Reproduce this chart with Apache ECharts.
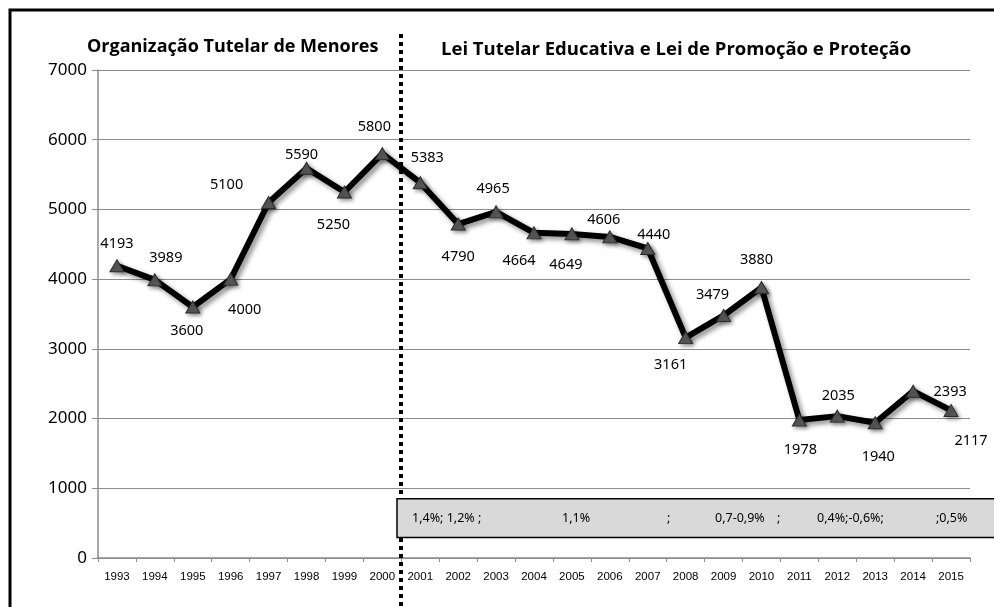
<!DOCTYPE html>
<html>
<head>
<meta charset="utf-8">
<script src="https://cdn.jsdelivr.net/npm/echarts@6/dist/echarts.min.js"></script>
<style>
  html, body { margin: 0; padding: 0; background: #fff; }
  #chart { width: 994px; height: 607px; }
</style>
</head>
<body>
<div id="chart"></div>
<script>
// dados
const anos = ['1993', '1994', '1995', '1996', '1997', '1998', '1999', '2000', '2001', '2002', '2003', '2004',
  '2005', '2006', '2007', '2008', '2009', '2010', '2011', '2012', '2013', '2014', '2015']
const valores = [4193, 3989, 3600, 4000, 5100, 5590, 5250, 5800, 5383, 4790, 4965, 4664,
  4649, 4606, 4440, 3161, 3479, 3880, 1978, 2035, 1940, 2393, 2117]
const yTicks = [0, 1000, 2000, 3000, 4000, 5000, 6000, 7000]
const tituloEsq = 'Organização Tutelar de Menores'
const tituloDir = 'Lei Tutelar Educativa e Lei de Promoção e Proteção'
const notas = ['1,4%; 1,2% ;', '1,1%', ';', '0,7-0,9%', ';', '0,4%;-0,6%;', ';0,5%']

// deslocamento de cada rótulo em relação ao ponto (px)
const labelOffsets = [
  [0, -22], [11, -22], [-6, 24], [14, 31], [-42, -18], [-5, -13], [-11, 33], [-8, -27],
  [7, -25], [0, 33], [-3, -23], [-15, 28], [-6, 31], [-6, -17], [6, -14], [-15, 27],
  [-11, -21], [-5, -28], [1, 30], [1, -20], [3, 34], [37, 1], [20, 30]
]
// posição x dos textos da caixa, a partir da linha pontilhada
const notasX = [11, 161, 266, 314, 376, 416, 535]

const chart = echarts.init(document.getElementById('chart'))

const seriesData = valores.map((v, i) => ({
  value: v,
  label: { offset: labelOffsets[i] }
}))

const option = {
  animation: false,
  grid: { left: 98, right: 24, top: 70, bottom: 49 },
  xAxis: {
    type: 'category',
    data: anos,
    boundaryGap: true,
    axisLine: { lineStyle: { color: '#8c8c8c', width: 1.5 } },
    axisTick: { show: true, length: 4, lineStyle: { color: '#8c8c8c' } },
    axisLabel: {
      color: '#000',
      fontFamily: 'Liberation Sans',
      fontSize: 11.5,
      margin: 13,
      interval: 0
    }
  },
  yAxis: {
    type: 'value',
    min: yTicks[0],
    max: yTicks[yTicks.length - 1],
    interval: 1000,
    axisLine: { show: true, lineStyle: { color: '#8c8c8c', width: 1.5 } },
    axisTick: { show: true, length: 6, lineStyle: { color: '#8c8c8c' } },
    axisLabel: {
      color: '#000',
      fontFamily: 'Noto Sans',
      fontSize: 17,
      margin: 11,
      formatter: v => String(v)
    },
    splitLine: { lineStyle: { color: '#8c8c8c', width: 1.2 } }
  },
  series: [
    {
      type: 'line',
      data: seriesData,
      symbol: 'triangle',
      symbolSize: [14, 12],
      lineStyle: {
        color: '#000',
        width: 6,
        shadowColor: 'rgba(0,0,0,0.45)',
        shadowBlur: 5,
        shadowOffsetX: 3,
        shadowOffsetY: 3
      },
      itemStyle: {
        color: '#595959',
        borderColor: '#2b2b2b',
        borderWidth: 1,
        shadowColor: 'rgba(0,0,0,0.4)',
        shadowBlur: 4,
        shadowOffsetX: 2,
        shadowOffsetY: 2
      },
      label: {
        show: true,
        position: 'inside',
        color: '#000',
        fontFamily: 'Noto Sans',
        fontSize: 14.5
      },
      z: 5
    }
  ]
}
chart.setOption(option)

// linha pontilhada e caixa de notas, posicionadas pelas escalas do gráfico
const xa = chart.convertToPixel({ xAxisIndex: 0 }, '2000')
const xb = chart.convertToPixel({ xAxisIndex: 0 }, '2001')
const xDiv = Math.round((xa + xb) / 2)
const boxTop = chart.convertToPixel({ yAxisIndex: 0 }, 850)
const boxBottom = chart.convertToPixel({ yAxisIndex: 0 }, 295)
const boxMid = (boxTop + boxBottom) / 2

const graphics = [
  {
    type: 'rect',
    shape: { x: 10, y: 10, width: 1100, height: 1000 },
    style: { fill: null, stroke: '#000', lineWidth: 3 },
    silent: true,
    z: 1
  },
  {
    type: 'text',
    x: 87,
    y: 47,
    style: {
      text: tituloEsq,
      fill: '#000',
      font: 'bold 18px "Open Sans"',
      textVerticalAlign: 'middle'
    },
    z: 10
  },
  {
    type: 'text',
    x: 441,
    y: 50,
    style: {
      text: tituloDir,
      fill: '#000',
      font: 'bold 18.5px "Open Sans"',
      textVerticalAlign: 'middle'
    },
    z: 10
  },
  {
    type: 'rect',
    shape: { x: xDiv - 4, y: boxTop, width: 800, height: boxBottom - boxTop },
    style: { fill: '#d9d9d9', stroke: '#000', lineWidth: 1.5 },
    z: 20
  },
  {
    type: 'line',
    shape: { x1: xDiv, y1: 34, x2: xDiv, y2: 607 },
    style: { stroke: '#000', lineWidth: 4, lineDash: [4, 4] },
    z: 15
  }
]
notas.forEach((t, i) => {
  graphics.push({
    type: 'text',
    x: xDiv + notasX[i],
    y: boxMid,
    style: {
      text: t,
      fill: '#000',
      font: '12.5px "Noto Sans"',
      textVerticalAlign: 'middle'
    },
    z: 21
  })
})
chart.setOption({ graphic: graphics })

window.addEventListener('resize', () => {
  chart.resize()
})
</script>
</body>
</html>
